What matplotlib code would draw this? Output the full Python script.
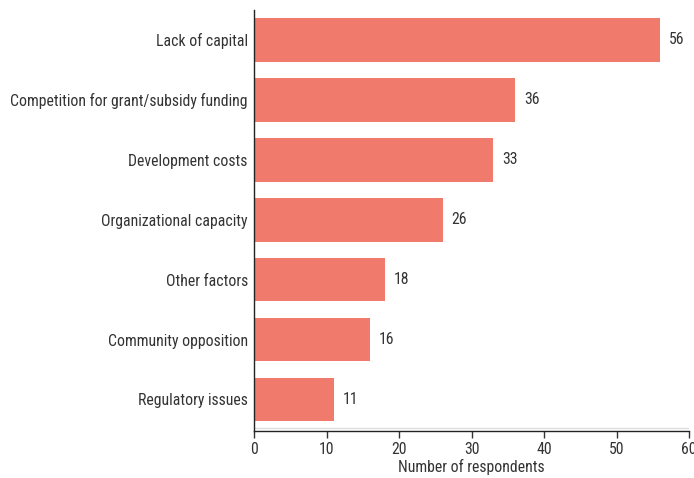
import matplotlib.pyplot as plt

# barriers to development, survey counts
categories = ['Lack of capital', 'Competition for grant/subsidy funding',
              'Development costs', 'Organizational capacity', 'Other factors',
              'Community opposition', 'Regulatory issues']
respondents = [56, 36, 33, 26, 18, 16, 11]
xticks = [0, 10, 20, 30, 40, 50, 60]

BAR_COLOR = '#F07B6C'
TEXT_COLOR = '#333333'
FS = 11.3

plt.rcParams['font.family'] = ['Roboto Condensed', 'Liberation Sans', 'DejaVu Sans']

fig = plt.figure(figsize=(6.94, 4.78), dpi=100)
ax = fig.add_axes([0.366, 0.098, 0.627, 0.881])

pos = list(range(len(categories)))
ax.barh(pos, respondents, height=0.73, color=BAR_COLOR)
for p, v in zip(pos, respondents):
    ax.annotate(str(v), (v, p), xytext=(6.5, 0), textcoords='offset points',
                va='center', ha='left', fontsize=FS, color=TEXT_COLOR)

ax.set_ylim(6.53, -0.5)
ax.set_xlim(0, 60)
ax.set_yticks(pos)
ax.set_yticklabels(categories, fontsize=FS, color=TEXT_COLOR)
ax.set_xticks(xticks)
ax.set_xticklabels([str(t) for t in xticks], fontsize=FS, color=TEXT_COLOR)
ax.tick_params(axis='y', length=0, pad=4.5)
ax.tick_params(axis='x', length=5, width=1, color='#333333', pad=3)
ax.set_xlabel('Number of respondents', fontsize=FS, color=TEXT_COLOR, labelpad=1)

# faint baseline just above the axis
ax.axhline(6.47, color='#dddddd', lw=1, zorder=0)

for side in ['top', 'right']:
    ax.spines[side].set_visible(False)
for side in ['left', 'bottom']:
    ax.spines[side].set_color('#222222')
    ax.spines[side].set_linewidth(1)

fig.savefig('out.png', dpi=100)
